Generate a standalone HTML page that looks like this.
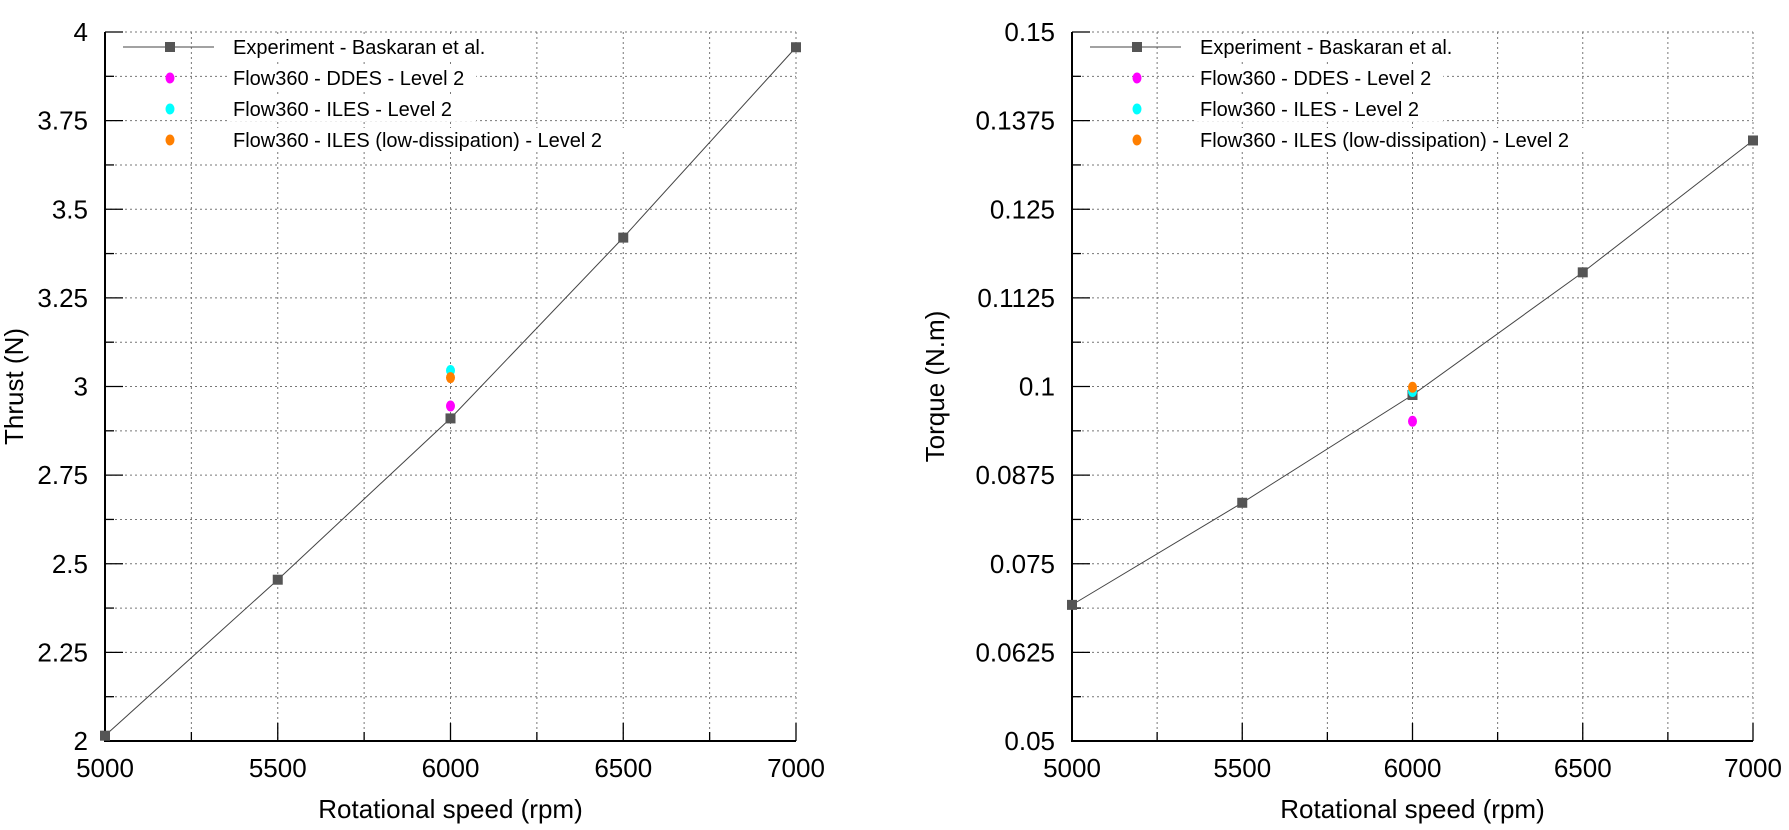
<!DOCTYPE html>
<html><head><meta charset="utf-8"><style>
html,body{margin:0;padding:0;background:#fff;}
svg{display:block;font-family:"Liberation Sans",Arial,sans-serif;}
</style></head><body>
<svg id="s" width="1789" height="830" xmlns="http://www.w3.org/2000/svg"></svg>
<script>
const s=document.getElementById('s');let h='';
function plot(x0,x1,y0,y1,ymin,ymax,ylabels,title,toff,exp,pts){
  const X=v=>x0+(v-5000)/2000*(x1-x0), Y=v=>y1-(v-ymin)/(ymax-ymin)*(y1-y0);
  for(let i=1;i<8;i++){const x=x0+i*(x1-x0)/8;
    h+=`<line x1="${x}" y1="${y0}" x2="${x}" y2="${y1}" stroke="#777" stroke-width="1" stroke-dasharray="2,3"/>`;
    h+=`<line x1="${x}" y1="${y1}" x2="${x}" y2="${y1-(i%2?9:18)}" stroke="#000" stroke-width="1.3"/>`;}
  h+=`<line x1="${x1}" y1="${y0}" x2="${x1}" y2="${y1}" stroke="#777" stroke-dasharray="2,3"/>`;
  for(let i=0;i<=16;i++){const y=y1-i*(y1-y0)/16;
    if(i>0)h+=`<line x1="${x0}" y1="${y}" x2="${x1}" y2="${y}" stroke="#777" stroke-width="1" stroke-dasharray="2,3"/>`;
    h+=`<line x1="${x0}" y1="${y}" x2="${x0+(i%2?9:18)}" y2="${y}" stroke="#000" stroke-width="1.3"/>`;
    if(i%2==0)h+=`<text x="${x0-17}" y="${y+9}" font-size="26" text-anchor="end">${ylabels[i/2]}</text>`;}
  h+=`<line x1="${x1}" y1="${y1}" x2="${x1}" y2="${y1-18}" stroke="#000" stroke-width="1.3"/>`;
  h+=`<path d="M${x0} ${y0}V${y1}H${x1}" fill="none" stroke="#000" stroke-width="2"/>`;
  [5000,5500,6000,6500,7000].forEach(v=>h+=`<text x="${X(v)}" y="777" font-size="26" text-anchor="middle">${v}</text>`);
  h+=`<text x="${(x0+x1)/2}" y="818" font-size="26" text-anchor="middle">Rotational speed (rpm)</text>`;
  h+=`<text transform="translate(${x0-toff},${(y0+y1)/2}) rotate(-90)" font-size="26" text-anchor="middle">${title}</text>`;
  h+=`<polyline points="${exp.map((v,i)=>X(5000+500*i)+','+Y(v)).join(' ')}" fill="none" stroke="#444" stroke-width="1"/>`;
  exp.forEach((v,i)=>h+=`<rect x="${X(5000+500*i)-5}" y="${Y(v)-5}" width="10" height="10" fill="#555"/>`);
  pts.forEach(([v,c])=>h+=`<ellipse cx="${X(6000)}" cy="${Y(v)}" rx="4.5" ry="5.5" fill="${c}"/>`);
  const lx=x0+65, tx=x0+128, ys=[47,78,109,140];
  h+=`<line x1="${x0+18}" y1="${ys[0]}" x2="${x0+109}" y2="${ys[0]}" stroke="#444"/><rect x="${lx-5}" y="${ys[0]-5}" width="10" height="10" fill="#555"/>`;
  const cs=['#ff00ff','#00ffff','#ff7f00'];
  ['Experiment - Baskaran et al.','Flow360 - DDES - Level 2','Flow360 - ILES - Level 2','Flow360 - ILES (low-dissipation) - Level 2'].forEach((t,i)=>{
    if(i>0)h+=`<ellipse cx="${lx}" cy="${ys[i]}" rx="4.5" ry="5.5" fill="${cs[i-1]}"/>`;
    h+=`<rect x="${tx-4}" y="${ys[i]-12}" width="${t.length*10.3}" height="24" fill="#fff"/><text x="${tx}" y="${ys[i]+7}" font-size="20">${t}</text>`;});
}
plot(105,796,32,741,2,4,['2','2.25','2.5','2.75','3','3.25','3.5','3.75','4'],'Thrust (N)',82,
 [2.015,2.455,2.91,3.42,3.957],[[2.945,'#ff00ff'],[3.045,'#00ffff'],[3.025,'#ff7f00']]);
plot(1072,1753,32,741,0.05,0.15,['0.05','0.0625','0.075','0.0875','0.1','0.1125','0.125','0.1375','0.15'],'Torque (N.m)',128,
 [0.0692,0.0836,0.0988,0.1161,0.1347],[[0.0951,'#ff00ff'],[0.0993,'#00ffff'],[0.0999,'#ff7f00']]);
s.innerHTML=h;
</script>
</body></html>
